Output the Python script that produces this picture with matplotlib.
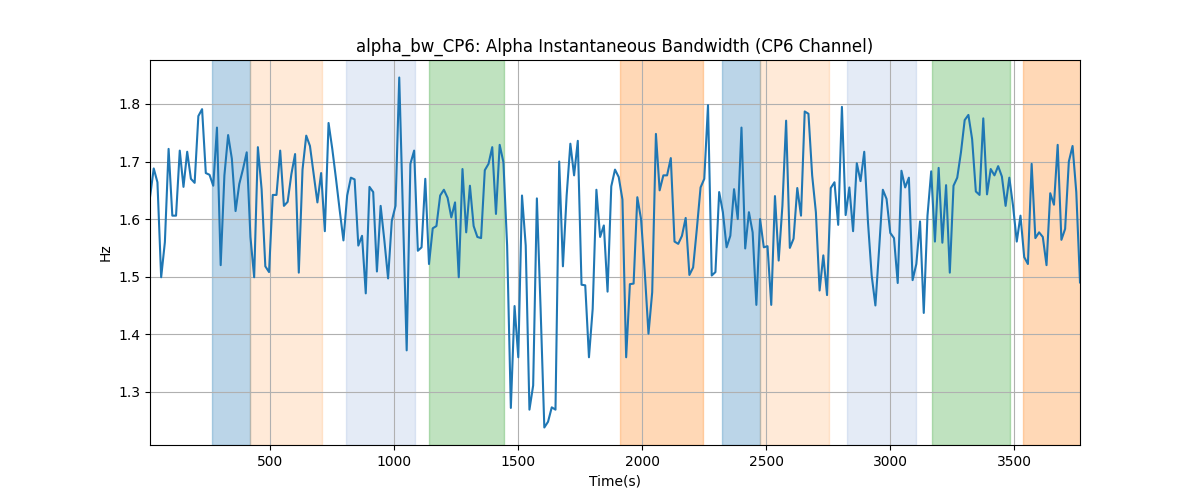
import numpy as np
import matplotlib
matplotlib.use("Agg")
import matplotlib.pyplot as plt

values = [
    1.638, 1.688, 1.664, 1.499, 1.560, 1.722, 1.606, 1.606, 1.719, 1.656,
    1.717, 1.670, 1.663, 1.779, 1.791, 1.680, 1.677, 1.658, 1.759, 1.520,
    1.676, 1.746, 1.705, 1.614, 1.661, 1.687, 1.716, 1.569, 1.499, 1.725,
    1.652, 1.518, 1.508, 1.642, 1.642, 1.719, 1.623, 1.630, 1.678, 1.713,
    1.507, 1.686, 1.745, 1.727, 1.678, 1.629, 1.680, 1.579, 1.767, 1.722,
    1.670, 1.615, 1.563, 1.641, 1.672, 1.669, 1.554, 1.571, 1.471, 1.656,
    1.647, 1.509, 1.623, 1.563, 1.497, 1.597, 1.623, 1.846, 1.606, 1.372,
    1.696, 1.719, 1.545, 1.551, 1.670, 1.522, 1.584, 1.588, 1.641, 1.651,
    1.637, 1.603, 1.629, 1.499, 1.687, 1.577, 1.658, 1.588, 1.569, 1.567,
    1.685, 1.696, 1.725, 1.609, 1.729, 1.699, 1.554, 1.272, 1.449, 1.360,
    1.641, 1.554, 1.269, 1.311, 1.636, 1.444, 1.238, 1.248, 1.273, 1.269,
    1.700, 1.518, 1.641, 1.731, 1.676, 1.736, 1.486, 1.485, 1.360, 1.444,
    1.651, 1.569, 1.589, 1.474, 1.657, 1.686, 1.673, 1.634, 1.360, 1.487,
    1.488, 1.638, 1.600, 1.508, 1.401, 1.473, 1.748, 1.650, 1.676, 1.676,
    1.706, 1.561, 1.557, 1.571, 1.602, 1.503, 1.516, 1.583, 1.655, 1.670,
    1.798, 1.502, 1.508, 1.647, 1.612, 1.551, 1.571, 1.652, 1.600, 1.759,
    1.549, 1.612, 1.577, 1.451, 1.600, 1.551, 1.553, 1.451, 1.640, 1.528,
    1.623, 1.771, 1.550, 1.566, 1.654, 1.606, 1.787, 1.783, 1.676, 1.612,
    1.476, 1.537, 1.468, 1.654, 1.664, 1.590, 1.795, 1.607, 1.655, 1.579,
    1.697, 1.666, 1.717, 1.595, 1.502, 1.450, 1.548, 1.651, 1.635, 1.576,
    1.567, 1.489, 1.684, 1.655, 1.672, 1.494, 1.522, 1.596, 1.437, 1.606,
    1.683, 1.561, 1.689, 1.559, 1.659, 1.507, 1.658, 1.672, 1.716, 1.772,
    1.781, 1.739, 1.648, 1.642, 1.775, 1.643, 1.687, 1.676, 1.692, 1.674,
    1.623, 1.672, 1.623, 1.561, 1.606, 1.534, 1.522, 1.696, 1.567, 1.577,
    1.569, 1.520, 1.645, 1.625, 1.729, 1.564, 1.583, 1.700, 1.727, 1.647,
    1.490,
]
times = 15 * (np.arange(len(values)) + 1)

span_starts = [265, 418, 805, 1140, 1910, 2321, 2474, 2825, 3168, 3535]
span_ends = [418, 708, 1083, 1442, 2245, 2474, 2753, 3103, 3482, 3800]
span_colors = ["C0", "C1", "#4472c4", "C2", "C1", "C0", "C1", "#4472c4", "C2", "C1"]
span_alphas = [0.3, 0.16, 0.14, 0.3, 0.3, 0.3, 0.16, 0.14, 0.3, 0.3]

fig, ax = plt.subplots(figsize=(12, 5), dpi=100)
for s, e, c, a in zip(span_starts, span_ends, span_colors, span_alphas):
    ax.axvspan(s, e, color=c, alpha=a)
ax.plot(times, values, color="C0", linewidth=1.5)
ax.set_xlim(times[0], times[-1])
ax.grid(True, color="#b0b0b0")
ax.set_title("alpha_bw_CP6: Alpha Instantaneous Bandwidth (CP6 Channel)")
ax.set_xlabel("Time(s)")
ax.set_ylabel("Hz")
fig.savefig("out.png", dpi=100)
